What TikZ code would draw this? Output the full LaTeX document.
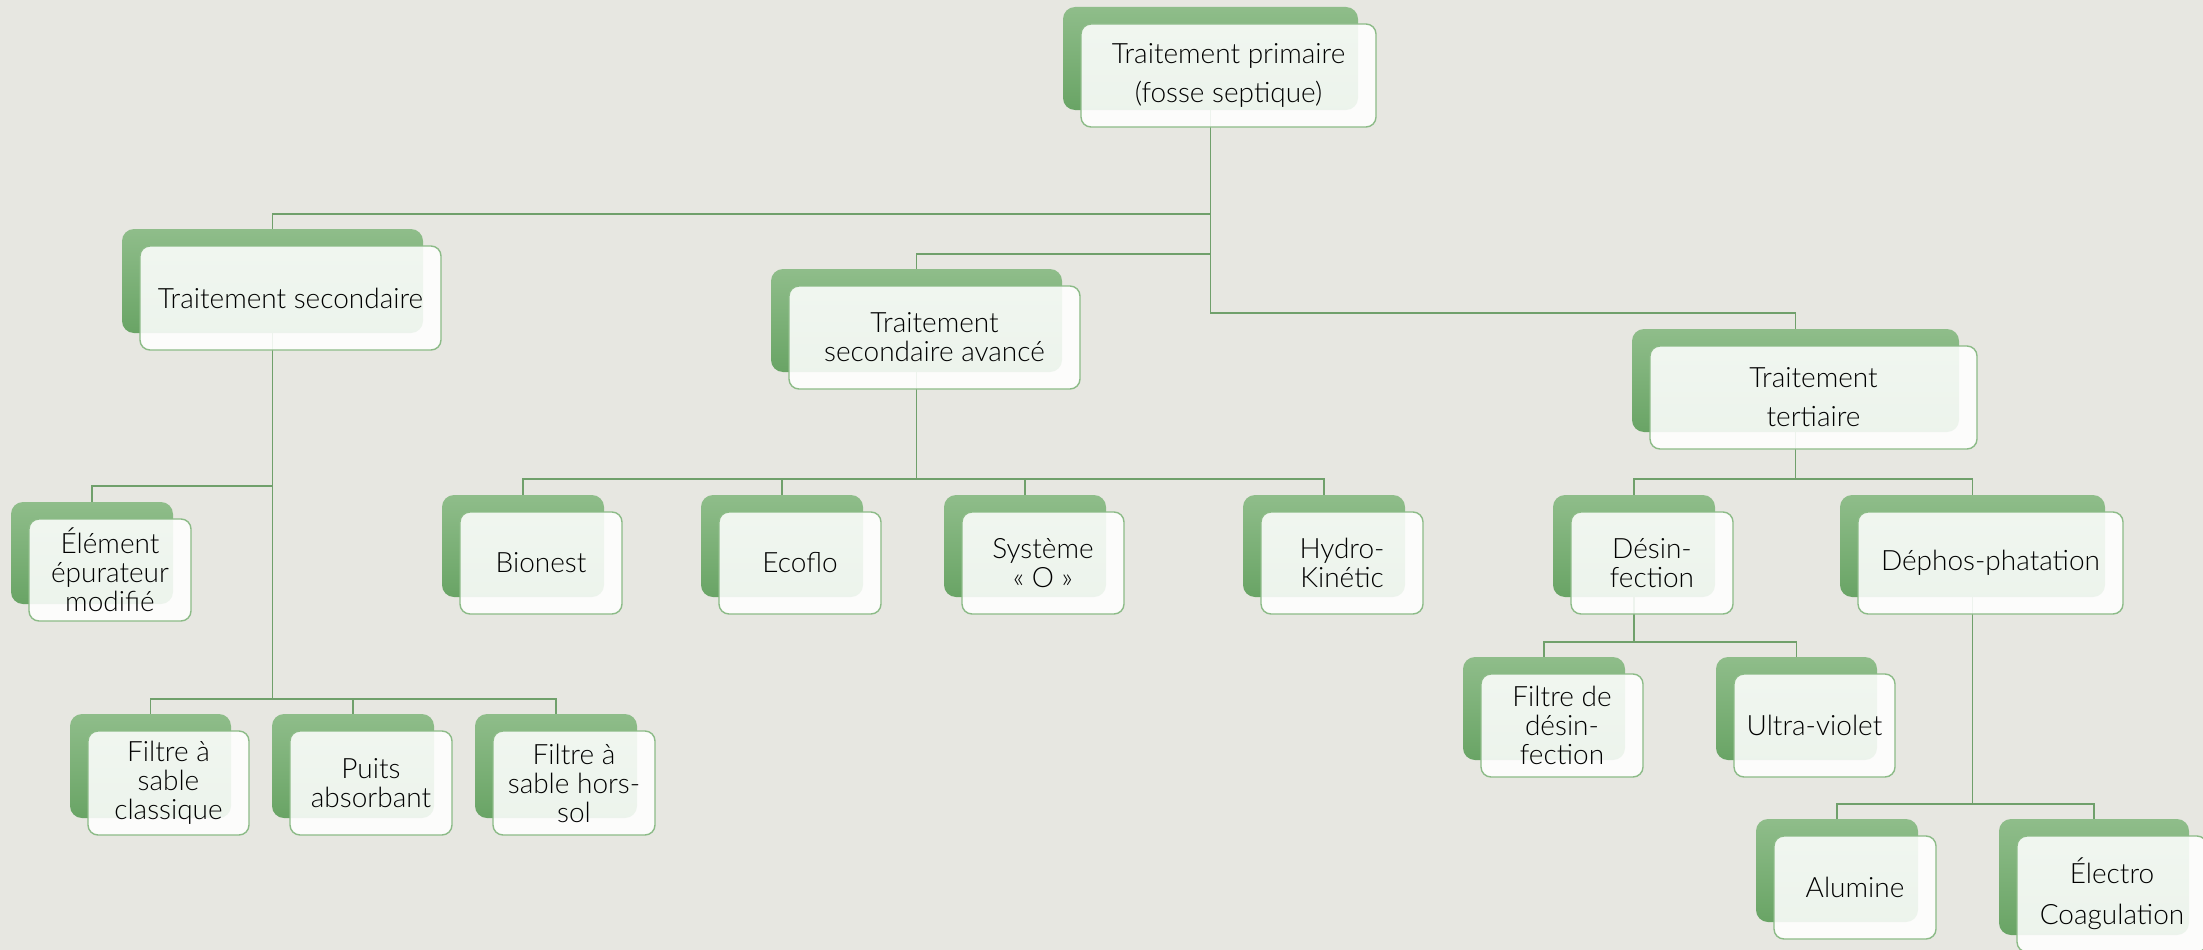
\documentclass[tikz,border=0pt]{standalone}
\usepackage{fontspec}
\setmainfont{Lato Light}
\definecolor{bgc}{HTML}{E7E7E1}
\definecolor{gtop}{HTML}{8FBD8A}
\definecolor{gbot}{HTML}{69A465}
\definecolor{gline}{HTML}{70A06B}
\definecolor{gborder}{HTML}{8CBB87}
\pgfdeclarelayer{bgfill}
\pgfdeclarelayer{lines}
\pgfsetlayers{bgfill,lines,main}
\tikzset{
 backbox/.style={rectangle, rounded corners=12pt, top color=gtop, bottom color=gbot, draw=none, inner sep=0pt},
 frontbox/.style={rectangle, rounded corners=10pt, fill=white, fill opacity=0.88, text opacity=1, draw=gborder, line width=1.4pt, inner sep=0pt, align=center, font=\fontsize{28}{29}\selectfont, text=black},
 conn/.style={draw=gline, line width=1.5pt},
}
\newcommand\mkbox[6]{%
 \node[backbox, minimum width={(#4-#2)*1pt}, minimum height={(#5-#3)*1pt}] (#1B) at ({(#2+#4)/2},{(#3+#5)/2}) {};
 \node[frontbox, minimum width={(#4-#2)*1pt}, minimum height={(#5-#3)*1pt}] (#1) at ({(#2+#4)/2+18},{(#3+#5)/2+17}) {#6};
}
\begin{document}
\begin{tikzpicture}[x=1pt,y=-1pt]
\useasboundingbox (0,0) rectangle (2203,950);
\clip (0,0) rectangle (2203,950);
\begin{pgfonlayer}{bgfill}
\fill[bgc] (0,0) rectangle (2203,950);
\end{pgfonlayer}

\mkbox{top}{1063}{7}{1358}{110}{Traitement primaire\\[10pt](fosse septique)}
\mkbox{sec}{122}{229}{423}{333}{Traitement secondaire}
\mkbox{adv}{771}{269}{1062}{372}{Traitement\\secondaire avancé}
\mkbox{ter}{1632}{329}{1959}{432}{Traitement\\[10pt]tertiaire}
\mkbox{elem}{11}{502}{173}{604}{Élément\\épurateur\\modifié}
\mkbox{bionest}{442}{495}{604}{597}{Bionest}
\mkbox{ecoflo}{701}{495}{863}{597}{Ecoflo}
\mkbox{systeme}{944}{495}{1106}{597}{Système\\« O »}
\mkbox{hydro}{1243}{495}{1405}{597}{Hydro-\\Kinétic}
\mkbox{desinf}{1553}{495}{1715}{597}{Désin-\\fection}
\mkbox{dephos}{1840}{495}{2105}{597}{Déphos-phatation}
\mkbox{filtredes}{1463}{657}{1625}{760}{Filtre de\\désin-\\fection}
\mkbox{uv}{1716}{657}{1877}{760}{Ultra-violet}
\mkbox{fsc}{70}{714}{231}{818}{Filtre à\\sable\\classique}
\mkbox{puits}{272}{714}{434}{818}{Puits\\absorbant}
\mkbox{hors}{475}{714}{637}{818}{Filtre à\\sable hors-\\sol}
\mkbox{alumine}{1756}{819}{1918}{922}{Alumine}
\mkbox{electro}{1999}{819}{2189}{935}{Électro\\[12pt]Coagulation}

\begin{pgfonlayer}{lines}
\draw[conn] (topB.south) |- (secB.north |- 0,214) -- (secB.north);
\draw[conn] (topB.south) |- (advB.north |- 0,254) -- (advB.north);
\draw[conn] (topB.south) |- (terB.north |- 0,313) -- (terB.north);
\draw[conn] (secB.south) |- (elemB.north |- 0,486) -- (elemB.north);
\draw[conn] (secB.south) |- (fscB.north |- 0,699) -- (fscB.north);
\draw[conn] (secB.south) |- (puitsB.north |- 0,699) -- (puitsB.north);
\draw[conn] (secB.south) |- (horsB.north |- 0,699) -- (horsB.north);
\draw[conn] (advB.south) |- (bionestB.north |- 0,479) -- (bionestB.north);
\draw[conn] (advB.south) |- (ecofloB.north |- 0,479) -- (ecofloB.north);
\draw[conn] (advB.south) |- (systemeB.north |- 0,479) -- (systemeB.north);
\draw[conn] (advB.south) |- (hydroB.north |- 0,479) -- (hydroB.north);
\draw[conn] (terB.south) |- (desinfB.north |- 0,479) -- (desinfB.north);
\draw[conn] (terB.south) |- (dephosB.north |- 0,479) -- (dephosB.north);
\draw[conn] (desinfB.south) |- (filtredesB.north |- 0,642) -- (filtredesB.north);
\draw[conn] (desinfB.south) |- (uvB.north |- 0,642) -- (uvB.north);
\draw[conn] (dephosB.south) |- (alumineB.north |- 0,804) -- (alumineB.north);
\draw[conn] (dephosB.south) |- (electroB.north |- 0,804) -- (electroB.north);
\end{pgfonlayer}
\end{tikzpicture}
\end{document}
